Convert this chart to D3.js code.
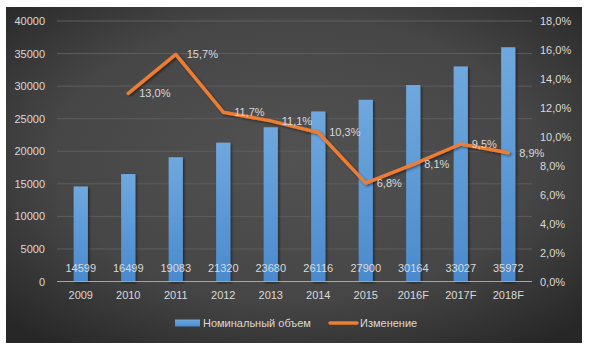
<!DOCTYPE html>
<html>
<head>
<meta charset="utf-8">
<script src="https://cdn.jsdelivr.net/npm/d3@7/dist/d3.min.js"></script>
<style>
  html, body { margin: 0; padding: 0; background: #ffffff; }
  svg { display: block; }
  text { font-family: "Liberation Sans", Arial, sans-serif; }
</style>
</head>
<body>
<svg id="chart" width="591" height="350"></svg>
<script>
// Market volume by year and its year-over-year change
const years = ["2009", "2010", "2011", "2012", "2013", "2014", "2015", "2016F", "2017F", "2018F"];
const volume = [14599, 16499, 19083, 21320, 23680, 26116, 27900, 30164, 33027, 35972];
const change = [null, 13.0, 15.7, 11.7, 11.1, 10.3, 6.8, 8.1, 9.5, 8.9];
const leftTicks = [0, 5000, 10000, 15000, 20000, 25000, 30000, 35000, 40000];
const rightTicks = [0, 2, 4, 6, 8, 10, 12, 14, 16, 18];
const seriesNames = ["Номинальный объем", "Изменение"];

const W = 591, H = 350;
const frame = { x: 6, y: 7, w: 576, h: 336 };
const plot = { left: 57, right: 532, top: 21, bottom: 281.5 };
const textColor = "#d9d9d9";

const svg = d3.select("#chart");
const defs = svg.append("defs");

const bg = defs.append("radialGradient").attr("id", "bgGrad")
  .attr("cx", "50%").attr("cy", "45%").attr("r", "70%");
bg.append("stop").attr("offset", "0%").attr("stop-color", "#525252");
bg.append("stop").attr("offset", "60%").attr("stop-color", "#464646");
bg.append("stop").attr("offset", "100%").attr("stop-color", "#272727");

const barGrad = defs.append("linearGradient").attr("id", "barGrad")
  .attr("x1", 0).attr("y1", 0).attr("x2", 0).attr("y2", 1);
barGrad.append("stop").attr("offset", "0%").attr("stop-color", "#6fa8de");
barGrad.append("stop").attr("offset", "100%").attr("stop-color", "#4a8acd");

const shadow = defs.append("filter").attr("id", "shadow")
  .attr("x", "-20%").attr("y", "-20%").attr("width", "150%").attr("height", "150%");
shadow.append("feDropShadow").attr("dx", 1.5).attr("dy", 1.5)
  .attr("stdDeviation", 1.2).attr("flood-color", "#000").attr("flood-opacity", 0.45);

svg.append("rect")
  .attr("x", frame.x).attr("y", frame.y).attr("width", frame.w).attr("height", frame.h)
  .attr("fill", "url(#bgGrad)");

const x = d3.scaleBand().domain(years).range([plot.left, plot.right]).paddingInner(0.7).paddingOuter(0.35);
const xc = d => x(d) + x.bandwidth() / 2;
const yL = d3.scaleLinear().domain([0, 40000]).range([plot.bottom, plot.top]);
const yR = d3.scaleLinear().domain([0, 18]).range([plot.bottom, plot.top]);

// gridlines
svg.append("g").selectAll("line").data(leftTicks.filter(t => t > 0)).join("line")
  .attr("x1", plot.left).attr("x2", plot.right)
  .attr("y1", d => yL(d)).attr("y2", d => yL(d))
  .attr("stroke", "#5e5e5e").attr("stroke-width", 1);

// left axis
const leftAxis = svg.append("g").attr("transform", `translate(${plot.left},0)`)
  .call(d3.axisLeft(yL).tickValues(leftTicks).tickFormat(d3.format("d")).tickSize(0).tickPadding(12));
leftAxis.select(".domain").remove();
leftAxis.selectAll("text").attr("fill", textColor).attr("font-size", 11);

// right axis
const rightAxis = svg.append("g").attr("transform", `translate(${plot.right},0)`)
  .call(d3.axisRight(yR).tickValues(rightTicks)
    .tickFormat(d => d.toFixed(1).replace(".", ",") + "%").tickSize(0).tickPadding(8));
rightAxis.select(".domain").remove();
rightAxis.selectAll("text").attr("fill", textColor).attr("font-size", 11);

// bars
svg.append("g").selectAll("rect").data(years).join("rect")
  .attr("x", d => x(d))
  .attr("y", (d, i) => yL(volume[i]))
  .attr("width", x.bandwidth())
  .attr("height", (d, i) => yL(0) - yL(volume[i]))
  .attr("fill", "url(#barGrad)")
  .attr("filter", "url(#shadow)");

// x axis baseline and labels
const bottomAxis = svg.append("g").attr("transform", `translate(0,${plot.bottom})`)
  .call(d3.axisBottom(x).tickSize(0).tickPadding(10));
bottomAxis.select(".domain").attr("stroke", "#a6a6a6").attr("stroke-width", 1)
  .attr("d", `M${plot.left},0H${plot.right}`);
bottomAxis.selectAll("text").attr("fill", textColor).attr("font-size", 11);

// value labels inside the bars
svg.append("g").selectAll("text").data(years).join("text")
  .attr("x", d => xc(d)).attr("y", yL(0) - 9.5)
  .attr("text-anchor", "middle").attr("font-size", 11).attr("fill", textColor)
  .text((d, i) => volume[i]);

// change line
const pts = years.map((d, i) => ({ year: d, v: change[i] })).filter(p => p.v !== null);
const line = d3.line().x(p => xc(p.year)).y(p => yR(p.v));
svg.append("path").datum(pts)
  .attr("d", line).attr("fill", "none")
  .attr("stroke", "#ed7d31").attr("stroke-width", 3.5)
  .attr("stroke-linejoin", "round").attr("stroke-linecap", "round")
  .attr("filter", "url(#shadow)");

svg.append("g").selectAll("text").data(pts).join("text")
  .attr("x", p => xc(p.year) + 11).attr("y", p => yR(p.v))
  .attr("dy", "0.35em").attr("font-size", 11).attr("fill", textColor)
  .text(p => p.v.toFixed(1).replace(".", ",") + "%");

// legend
const lg = svg.append("g");
lg.append("rect").attr("x", 175).attr("y", 319.5).attr("width", 25).attr("height", 7)
  .attr("fill", "url(#barGrad)");
lg.append("text").attr("x", 203).attr("y", 323).attr("dy", "0.35em")
  .attr("font-size", 11).attr("fill", textColor).text(seriesNames[0]);
lg.append("line").attr("x1", 330).attr("x2", 357).attr("y1", 323).attr("y2", 323)
  .attr("stroke", "#ed7d31").attr("stroke-width", 3.5).attr("stroke-linecap", "round");
lg.append("text").attr("x", 360).attr("y", 323).attr("dy", "0.35em")
  .attr("font-size", 11).attr("fill", textColor).text(seriesNames[1]);
</script>
</body>
</html>
